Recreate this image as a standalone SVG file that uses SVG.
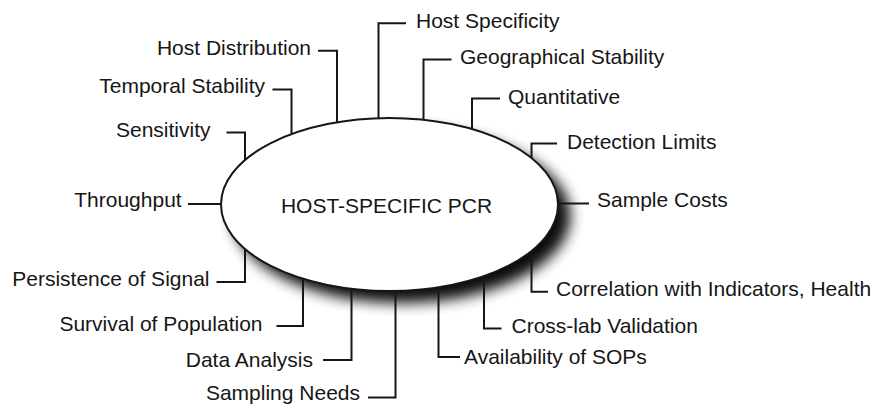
<svg xmlns="http://www.w3.org/2000/svg" width="874" height="405" viewBox="0 0 874 405">
  <style>
    .lbl { font-family: "Liberation Sans", Arial, sans-serif; font-size: 21px; fill: #161616; }
    .end { text-anchor: end; }
    .con { fill: none; stroke: #161616; stroke-width: 2; }
    .hub { fill: #ffffff; stroke: #161616; stroke-width: 2; }
  </style>
  <defs>
    <filter id="soft" x="-20%" y="-30%" width="140%" height="160%">
      <feGaussianBlur stdDeviation="7"/>
    </filter>
  </defs>

  <rect width="874" height="405" fill="#ffffff"/>

  <!-- drop shadow behind the central ellipse -->
  <ellipse cx="401.5" cy="216" rx="169" ry="87" fill="#000000" opacity="0.95" filter="url(#soft)"/>

  <!-- elbow connectors from each label to the ellipse -->
  <g id="connectors" class="con">
    <path d="M318,50.7 H337 V126"/>
    <path d="M406,23.3 H378.5 V122"/>
    <path d="M451.5,59.5 H423.5 V124"/>
    <path d="M272.5,89.5 H291.5 V138"/>
    <path d="M226.5,132.5 H245 V164"/>
    <path d="M188,204 H226"/>
    <path d="M589,203.5 H553"/>
    <path d="M500,98.5 H472 V133"/>
    <path d="M557,143.5 H531.5 V162"/>
    <path d="M216.5,282 H245 V245"/>
    <path d="M276.5,326 H303 V274"/>
    <path d="M323,360 H351.5 V284"/>
    <path d="M368,397.5 H395.5 V286"/>
    <path d="M460,357 H438.5 V283"/>
    <path d="M501.5,328.5 H484 V272"/>
    <path d="M548,291.7 H531.5 V247"/>
  </g>

  <g id="hub">
    <ellipse class="hub" cx="389.5" cy="204.5" rx="168.5" ry="86.5"/>
    <text class="lbl" x="386.5" y="213" text-anchor="middle">HOST-SPECIFIC PCR</text>
  </g>

  <g id="host-distribution"><text class="lbl end" x="311" y="54.5">Host Distribution</text></g>
  <g id="temporal-stability"><text class="lbl end" x="265" y="93">Temporal Stability</text></g>
  <g id="sensitivity"><text class="lbl end" x="210.5" y="137">Sensitivity</text></g>
  <g id="throughput"><text class="lbl end" x="181.7" y="207">Throughput</text></g>
  <g id="persistence"><text class="lbl end" x="209.5" y="286">Persistence of Signal</text></g>
  <g id="survival"><text class="lbl end" x="262.5" y="330.5">Survival of Population</text></g>
  <g id="data-analysis"><text class="lbl end" x="313" y="367">Data Analysis</text></g>
  <g id="sampling-needs"><text class="lbl end" x="360" y="400">Sampling Needs</text></g>

  <g id="host-specificity"><text class="lbl" x="416" y="27.5">Host Specificity</text></g>
  <g id="geographical-stability"><text class="lbl" x="460" y="63.5">Geographical Stability</text></g>
  <g id="quantitative"><text class="lbl" x="508" y="104.3">Quantitative</text></g>
  <g id="detection-limits"><text class="lbl" x="567" y="149">Detection Limits</text></g>
  <g id="sample-costs"><text class="lbl" x="597" y="207">Sample Costs</text></g>
  <g id="correlation"><text class="lbl" x="556" y="295.5">Correlation with Indicators, Health</text></g>
  <g id="cross-lab"><text class="lbl" x="511.5" y="333">Cross-lab Validation</text></g>
  <g id="availability"><text class="lbl" x="464" y="363.5">Availability of SOPs</text></g>
</svg>
